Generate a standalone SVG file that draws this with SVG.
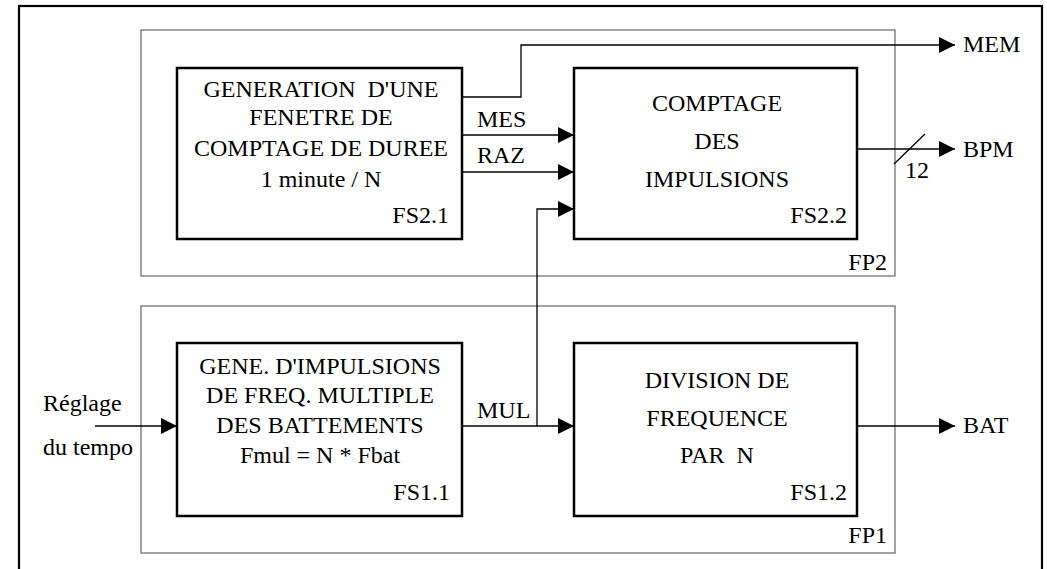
<svg xmlns="http://www.w3.org/2000/svg" width="1047" height="569" viewBox="0 0 1047 569">
<style>
text{font-family:"Liberation Serif","Times New Roman","DejaVu Serif",serif;font-size:24px;fill:#000}
.c{text-anchor:middle}
.r{text-anchor:end}
.fp{fill:none;stroke:#707070;stroke-width:1.3}
.fs{fill:#fff;stroke:#000;stroke-width:2.5}
.w{fill:none;stroke:#000;stroke-width:1.3}
</style>
<defs>
<marker id="ah" markerUnits="userSpaceOnUse" markerWidth="16" markerHeight="16" refX="16" refY="8" orient="auto">
<path d="M0,0 L16,8 L0,16 z" fill="#000"/>
</marker>
</defs>
<rect x="0" y="0" width="1047" height="569" fill="#fff"/>
<rect id="frame" x="19" y="6" width="1023" height="580" fill="none" stroke="#000" stroke-width="2.2"/>
<g font-family="Liberation Serif, serif">
<g id="FP2"><rect class="fp" x="141" y="30" width="754" height="246"/><text class="r" x="887" y="270">FP2</text></g>
<g id="FP1"><rect class="fp" x="141" y="306" width="754" height="247"/><text class="r" x="887" y="543">FP1</text></g>
<g id="connectors">
<polyline class="w" points="462,97 521,97 521,45 955,45" marker-end="url(#ah)"/>
<line class="w" x1="462" y1="135" x2="574" y2="135" marker-end="url(#ah)"/>
<line class="w" x1="462" y1="172" x2="574" y2="172" marker-end="url(#ah)"/>
<polyline class="w" points="537,426 537,209 574,209" marker-end="url(#ah)"/>
<line class="w" x1="462" y1="426" x2="574" y2="426" marker-end="url(#ah)"/>
<line class="w" x1="857" y1="149" x2="955" y2="149" marker-end="url(#ah)"/>
<line class="w" x1="894" y1="164" x2="925" y2="134"/>
<line class="w" x1="857" y1="426" x2="955" y2="426" marker-end="url(#ah)"/>
<line class="w" x1="95" y1="426" x2="177" y2="426" marker-end="url(#ah)"/>
<text x="477" y="127">MES</text>
<text x="477" y="163">RAZ</text>
<text x="477" y="418">MUL</text>
<text x="963" y="52">MEM</text>
<text x="963" y="157">BPM</text>
<text x="905" y="178">12</text>
<text x="963" y="433">BAT</text>
<text x="43" y="411">Réglage</text>
<text x="43" y="455">du tempo</text>
</g>
<g id="FS2.1"><rect class="fs" x="177" y="68" width="285" height="171"/>
<text class="c" x="321" y="97" xml:space="preserve">GENERATION  D'UNE</text>
<text class="c" x="321" y="125">FENETRE DE</text>
<text class="c" x="321" y="156">COMPTAGE DE DUREE</text>
<text class="c" x="321" y="187">1 minute / N</text>
<text class="r" x="449" y="223">FS2.1</text></g>
<g id="FS2.2"><rect class="fs" x="574" y="68" width="283" height="171"/>
<text class="c" x="717" y="111">COMPTAGE</text>
<text class="c" x="717" y="149">DES</text>
<text class="c" x="717" y="187">IMPULSIONS</text>
<text class="r" x="847" y="223">FS2.2</text></g>
<g id="FS1.1"><rect class="fs" x="177" y="343" width="285" height="173"/>
<text class="c" x="320" y="374">GENE. D'IMPULSIONS</text>
<text class="c" x="320" y="403">DE FREQ. MULTIPLE</text>
<text class="c" x="320" y="433">DES BATTEMENTS</text>
<text class="c" x="320" y="463">Fmul = N * Fbat</text>
<text class="r" x="450" y="500">FS1.1</text></g>
<g id="FS1.2"><rect class="fs" x="574" y="343" width="283" height="173"/>
<text class="c" x="717" y="388">DIVISION DE</text>
<text class="c" x="717" y="426">FREQUENCE</text>
<text class="c" x="717" y="463" xml:space="preserve">PAR  N</text>
<text class="r" x="847" y="500">FS1.2</text></g>
</g>
</svg>
